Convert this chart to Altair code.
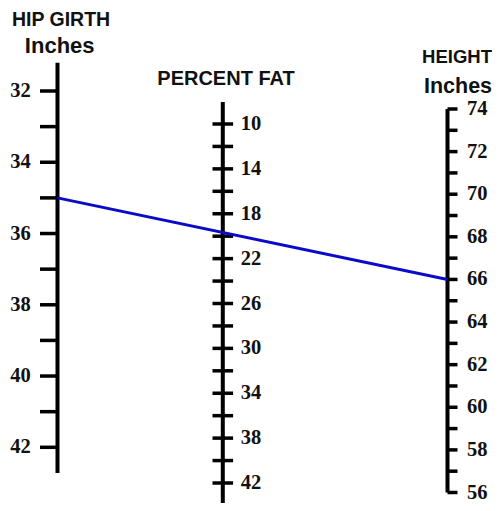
import altair as alt
import pandas as pd

# ---- data ----
hip_ticks = [32, 33, 34, 35, 36, 37, 38, 39, 40, 41, 42]
hip_labels = [32, 34, 36, 38, 40, 42]
fat_ticks = [10, 12, 14, 16, 18, 20, 22, 24, 26, 28, 30, 32, 34, 36, 38, 40, 42]
fat_labels = [10, 14, 18, 22, 26, 30, 34, 38, 42]
height_ticks = [56, 57, 58, 59, 60, 61, 62, 63, 64, 65, 66, 67, 68, 69, 70, 71, 72, 73, 74]
height_labels = [56, 58, 60, 62, 64, 66, 68, 70, 72, 74]
axis_ends = {"hip": [31.21, 42.72], "fat": [8.04, 43.8], "height": [74, 56]}
reading_hip = [35]
reading_fat = [20]
reading_height = [66]

# ---- layout (scale geometry of each nomogram axis) ----
W, H = 484, 495
AX = {"hip": 49.5, "fat": 214.8, "height": 439.5}
# value -> vertical position: (value_a, pos_a, value_b, pos_b)
SC = {"hip": (32, 83.0, 42, 439.3), "fat": (10, 116.0, 42, 475.0), "height": (74, 101.0, 56, 484.5)}
TICK = {"hip": (-17.5, 0.0), "fat": (-10.3, 10.3), "height": (0.0, 10.0)}
LBL = {"hip": (22.7, "right"), "fat": (232.7, "left"), "height": (459.0, "left")}


def pos_expr(axis, field="value"):
    va, pa, vb, pb = SC[axis]
    slope = (pb - pa) / (vb - va)
    return f"{pa} + (datum.{field} - {va}) * {slope}"


xs = alt.Scale(domain=[0, W], range=[0, W])
ys = alt.Scale(domain=[0, H], range=[0, H])

layers = []
for axis, ticks, labels in [("hip", hip_ticks, hip_labels),
                            ("fat", fat_ticks, fat_labels),
                            ("height", height_ticks, height_labels)]:
    ends = pd.DataFrame({"v0": [axis_ends[axis][0]], "v1": [axis_ends[axis][1]]})
    line = alt.Chart(ends).transform_calculate(
        y0=pos_expr(axis, "v0"), y1=pos_expr(axis, "v1"), xx=f"{AX[axis]}"
    ).mark_rule(color="black", strokeWidth=4, strokeCap="butt").encode(
        x=alt.X("xx:Q", scale=xs, axis=None),
        y=alt.Y("y0:Q", scale=ys, axis=None),
        y2="y1:Q",
    )
    tdf = pd.DataFrame({"value": ticks})
    t0, t1 = TICK[axis]
    tk = alt.Chart(tdf).transform_calculate(
        yy=pos_expr(axis), xa=f"{AX[axis] + t0}", xb=f"{AX[axis] + t1}"
    ).mark_rule(color="black", strokeWidth=3.5, strokeCap="butt").encode(
        x=alt.X("xa:Q", scale=xs, axis=None),
        x2="xb:Q",
        y=alt.Y("yy:Q", scale=ys, axis=None),
    )
    ldf = pd.DataFrame({"value": labels})
    lx, al = LBL[axis]
    lb = alt.Chart(ldf).transform_calculate(
        yy=pos_expr(axis), xl=f"{lx}"
    ).mark_text(
        align=al, baseline="middle", font="Liberation Serif", fontWeight="bold",
        fontSize=20.5, color="#111111", dy=0
    ).encode(
        x=alt.X("xl:Q", scale=xs, axis=None),
        y=alt.Y("yy:Q", scale=ys, axis=None),
        text="value:N",
    )
    layers += [line, tk, lb]

# reading line across the three scales
rd = pd.DataFrame({"hip": reading_hip, "fat": reading_fat, "height": reading_height})
reading_line = alt.Chart(rd).transform_calculate(
    ya=pos_expr("hip", "hip"), yb=pos_expr("height", "height"),
    xa=f"{AX['hip']}", xb=f"{AX['height']}"
).mark_rule(color="#0a0ac8", strokeWidth=3, strokeCap="butt").encode(
    x=alt.X("xa:Q", scale=xs, axis=None), x2="xb:Q",
    y=alt.Y("ya:Q", scale=ys, axis=None), y2="yb:Q",
)

titles = pd.DataFrame({
    "text": ["HIP GIRTH", "Inches", "PERCENT FAT", "HEIGHT", "Inches"],
    "tx": [53.0, 51.7, 218.0, 449.0, 450.0],
    "ty": [17.8, 45.0, 77.0, 55.0, 85.0],
    "fs": [19.5, 22, 20, 18.5, 21.5],
})
title_layer = alt.Chart(titles).mark_text(
    align="center", baseline="alphabetic", font="Liberation Sans", fontWeight="bold", color="#111111"
).encode(
    x=alt.X("tx:Q", scale=xs, axis=None),
    y=alt.Y("ty:Q", scale=ys, axis=None),
    text="text:N",
    size=alt.Size("fs:Q", scale=None, legend=None),
)

chart = alt.layer(*layers, reading_line, title_layer).properties(
    width=W, height=H, padding=0, autosize=alt.AutoSizeParams(type="none"),
    background="white",
).configure_view(stroke=None)

chart.save("out.html", embed_options={"renderer": "svg", "actions": False})
